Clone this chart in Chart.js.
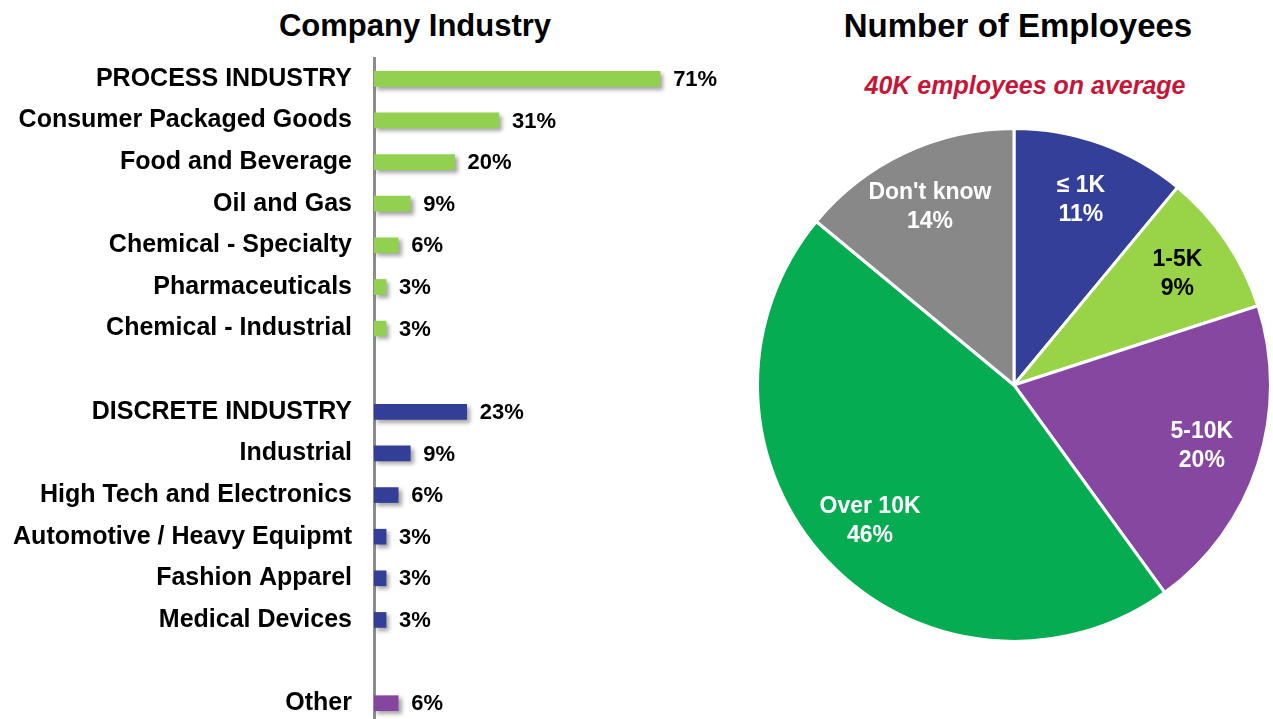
<!DOCTYPE html>
<html>
<head>
<meta charset="utf-8">
<script src="https://cdn.jsdelivr.net/npm/chart.js@4"></script>
<style>
  html, body { margin: 0; padding: 0; background: #fff; overflow: hidden; }
  body { width: 1273px; height: 719px; position: relative; font-family: "Liberation Sans", Arial, sans-serif; }
  .title { position: absolute; font-weight: bold; line-height: 36px; color: #000; text-align: center; white-space: nowrap; }
  .sub { position: absolute; font-weight: bold; font-style: italic; font-size: 25px; line-height: 28px; color: #C5163A; text-align: center; white-space: nowrap; }
  #barBox { position: absolute; left: 0; top: 0; width: 777px; height: 761px; }
  #pieBox { position: absolute; left: 756px; top: 127px; width: 516px; height: 516px; }
</style>
</head>
<body>
<div class="title" style="left:215px; width:400px; top:8px; font-size:31px;">Company Industry</div>
<div class="title" style="left:818px; width:400px; top:8px; font-size:33px;">Number of Employees</div>
<div class="sub" style="left:825px; width:400px; top:71px;">40K employees on average</div>
<div id="barBox"><canvas id="industryChart"></canvas></div>
<div id="pieBox"><canvas id="employeeChart"></canvas></div>

<script>
// Company industry (bars) - empty strings / nulls are the gaps between groups
const industryLabels = [
    'PROCESS INDUSTRY', 'Consumer Packaged Goods', 'Food and Beverage', 'Oil and Gas',
    'Chemical - Specialty', 'Pharmaceuticals', 'Chemical - Industrial', '',
    'DISCRETE INDUSTRY', 'Industrial', 'High Tech and Electronics', 'Automotive / Heavy Equipmt',
    'Fashion Apparel', 'Medical Devices', '', 'Other'
];
const industryValues = [71, 31, 20, 9, 6, 3, 3, null, 23, 9, 6, 3, 3, 3, null, 6];
const industryGroups = [
    'process', 'process', 'process', 'process', 'process', 'process', 'process', '',
    'discrete', 'discrete', 'discrete', 'discrete', 'discrete', 'discrete', '', 'other'
];

// Number of employees (pie), clockwise from 12 o'clock
const sizeLabels = ['≤ 1K', '1-5K', '5-10K', 'Over 10K', "Don't know"];
const sizeValues = [11, 9, 20, 46, 14];

const FONT = '"Liberation Sans", Arial, sans-serif';
const groupColors = { process: '#92D050', discrete: '#333F97', other: '#8646A0', '': 'transparent' };
const pieColors = ['#343F99', '#98D348', '#8647A0', '#06AC52', '#888888'];
const pieTextColors = ['#fff', '#000', '#fff', '#fff', '#fff'];

// soft drop shadow under the bars + value labels at the bar ends
const barShadow = {
    id: 'barShadow',
    beforeDatasetsDraw(chart) {
        const c = chart.ctx;
        c.save();
        c.shadowColor = 'rgba(0, 0, 0, 0.35)';
        c.shadowOffsetX = 3;
        c.shadowOffsetY = 3;
        c.shadowBlur = 4;
    },
    afterDatasetsDraw(chart) {
        const c = chart.ctx;
        c.restore();
        c.save();
        c.font = 'bold 22px ' + FONT;
        c.fillStyle = '#000';
        c.textBaseline = 'middle';
        c.textAlign = 'left';
        chart.getDatasetMeta(0).data.forEach((bar, i) => {
            const v = industryValues[i];
            if (v == null) return;
            c.fillText(v + '%', bar.x + 13, bar.y + 1);
        });
        c.restore();
    }
};

new Chart(document.getElementById('industryChart'), {
    type: 'bar',
    data: {
        labels: industryLabels,
        datasets: [{
            data: industryValues,
            backgroundColor: industryGroups.map(g => groupColors[g]),
            barThickness: 15,
            borderWidth: 0
        }]
    },
    options: {
        indexAxis: 'y',
        responsive: true,
        maintainAspectRatio: false,
        animation: false,
        events: [],
        layout: { padding: { top: 58, right: 0, bottom: 0, left: 0 } },
        plugins: { legend: { display: false }, tooltip: { enabled: false } },
        scales: {
            x: { display: false, min: 0, max: 100 },
            y: {
                afterFit(scale) { scale.width = 374; },
                grid: { display: false, drawTicks: false },
                border: { display: true, color: '#8C8C8C', width: 3 },
                ticks: {
                    color: '#000',
                    padding: 22,
                    autoSkip: false,
                    font: { family: FONT, size: 25, weight: 'bold' }
                }
            }
        }
    },
    plugins: [barShadow]
});

// two-line labels inside the pie slices
const sliceLabels = {
    id: 'sliceLabels',
    afterDatasetsDraw(chart) {
        const c = chart.ctx;
        c.save();
        c.font = 'bold 23px ' + FONT;
        c.textAlign = 'center';
        c.textBaseline = 'middle';
        chart.getDatasetMeta(0).data.forEach((arc, i) => {
            const p = arc.getProps(['x', 'y', 'startAngle', 'endAngle', 'outerRadius'], true);
            const mid = (p.startAngle + p.endAngle) / 2;
            const r = p.outerRadius * 0.77;
            const x = p.x + Math.cos(mid) * r;
            const y = p.y + Math.sin(mid) * r;
            c.fillStyle = pieTextColors[i];
            c.fillText(sizeLabels[i], x, y - 14);
            c.fillText(sizeValues[i] + '%', x, y + 15);
        });
        c.restore();
    }
};

new Chart(document.getElementById('employeeChart'), {
    type: 'pie',
    data: {
        labels: sizeLabels,
        datasets: [{
            data: sizeValues,
            backgroundColor: pieColors,
            borderColor: '#fff',
            borderWidth: 3
        }]
    },
    options: {
        responsive: true,
        maintainAspectRatio: false,
        animation: false,
        events: [],
        layout: { padding: 0 },
        plugins: { legend: { display: false }, tooltip: { enabled: false } }
    },
    plugins: [sliceLabels]
});
</script>
</body>
</html>
